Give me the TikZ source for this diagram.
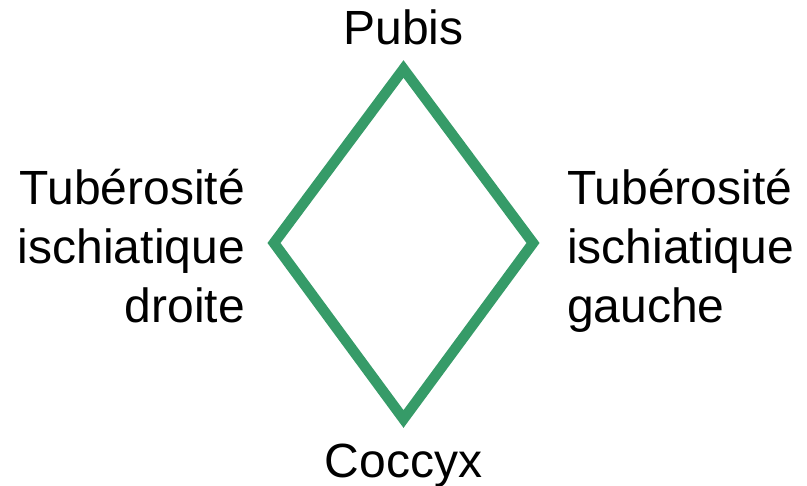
\documentclass[tikz,border=0pt]{standalone}
\usepackage{fontspec}
\setmainfont{Liberation Sans}
\usetikzlibrary{positioning}
\definecolor{bonegreen}{RGB}{54,155,104}

\begin{document}
\begin{tikzpicture}[x=1pt, y=-1pt, tagnode/.style={draw=none, fill=none, inner sep=0pt, font=\fontsize{48}{59}\selectfont}, rim/.style={draw=bonegreen, line width=10.5pt, line join=miter}]
    \useasboundingbox (0,0) rectangle (807,486);

    %Nodes
    \coordinate (top) at (403.5,69);
    \coordinate (left) at (274,243);
    \coordinate (right) at (533,243);
    \coordinate (bottom) at (403.5,419);
    \node[tagnode, anchor=south](pubis)[above=24pt of top]{Pubis};
    \node[tagnode, anchor=north](coccyx)[below=25pt of bottom]{Coccyx};
    \node[tagnode, align=right, anchor=north east](droite) at (245,169){Tubérosité\\ischiatique\\droite};
    \node[tagnode, align=left, anchor=north west](gauche) at (567,169){Tubérosité\\ischiatique\\gauche};

    %Lines
    \draw[rim] (top) -- (right) -- (bottom) -- (left) -- cycle;

\end{tikzpicture}
\end{document}
